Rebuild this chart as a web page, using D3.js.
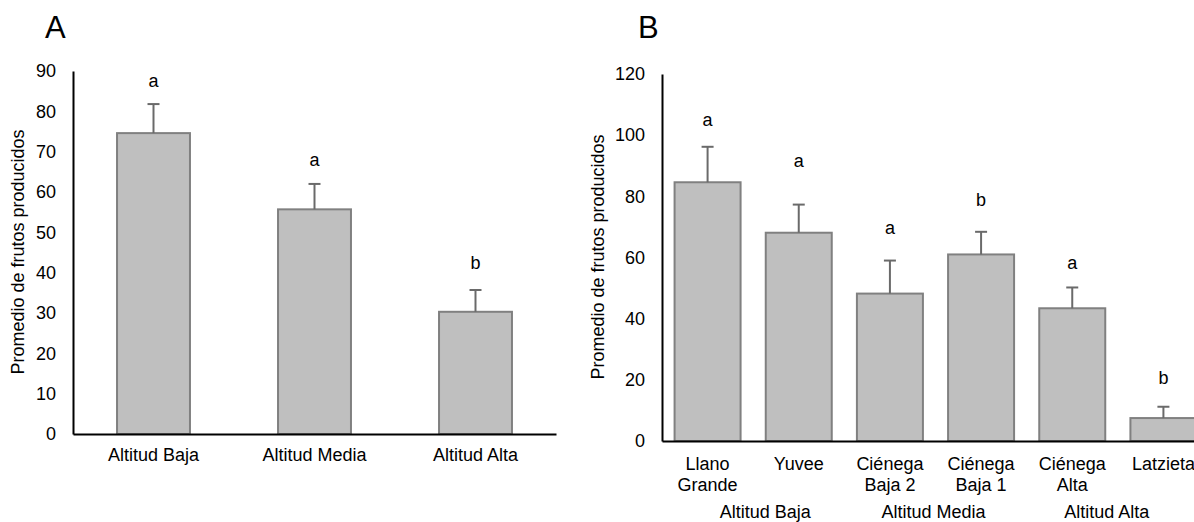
<!DOCTYPE html>
<html>
<head>
<meta charset="utf-8">
<script src="https://cdn.jsdelivr.net/npm/d3@7"></script>
<style>
  body { margin: 0; background: #fff; }
  text { font-family: "Liberation Sans", Arial, sans-serif; fill: #000; }
</style>
</head>
<body>
<svg id="chart" width="1194" height="522"></svg>
<script>
// Panel A data
var catsA = ["Altitud Baja", "Altitud Media", "Altitud Alta"];
var meanA = [74.6, 55.7, 30.3];
var errA = [81.8, 62.0, 35.7];
var letterA = ["a", "a", "b"];
var letterPosA = [87.3, 67.9, 42.2];
var ticksA = [0, 10, 20, 30, 40, 50, 60, 70, 80, 90];

// Panel B data
var catsB = [["Llano", "Grande"], ["Yuvee"], ["Ciénega", "Baja 2"], ["Ciénega", "Baja 1"], ["Ciénega", "Alta"], ["Latzieta"]];
var meanB = [84.6, 68.1, 48.2, 61.0, 43.4, 7.5];
var errB = [96.2, 77.3, 59.0, 68.4, 50.2, 11.2];
var letterB = ["a", "a", "a", "b", "a", "b"];
var letterPosB = [104.8, 91.3, 69.4, 78.6, 58.0, 20.5];
var ticksB = [0, 20, 40, 60, 80, 100, 120];
var groupsB = ["Altitud Baja", "Altitud Media", "Altitud Alta"];

var yTitle = "Promedio de frutos producidos";

var svg = d3.select("#chart");

function panel(opt) {
  var g = svg.append("g");
  var idx = d3.range(opt.means.length);
  var x = d3.scaleBand().domain(idx).range(opt.xRange)
      .paddingInner(opt.pad).paddingOuter(opt.pad / 2);
  var y = d3.scaleLinear().domain(opt.yDomain).range(opt.yRange);

  // bars
  g.selectAll("rect.bar").data(idx).enter().append("rect")
    .attr("x", function(i) { return x(i); })
    .attr("y", function(i) { return y(opt.means[i]); })
    .attr("width", x.bandwidth())
    .attr("height", function(i) { return y(0) - y(opt.means[i]); })
    .attr("fill", "#bfbfbf")
    .attr("stroke", "#808080")
    .attr("stroke-width", 2);

  // error bars + significance letters
  idx.forEach(function(i) {
    var cx = x(i) + x.bandwidth() / 2;
    g.append("line")
      .attr("x1", cx).attr("x2", cx)
      .attr("y1", y(opt.means[i])).attr("y2", y(opt.errs[i]))
      .attr("stroke", "#6a6a6a").attr("stroke-width", 2);
    g.append("line")
      .attr("x1", cx - 6).attr("x2", cx + 6)
      .attr("y1", y(opt.errs[i])).attr("y2", y(opt.errs[i]))
      .attr("stroke", "#6a6a6a").attr("stroke-width", 2);
    g.append("text")
      .attr("x", cx).attr("y", y(opt.letterPos[i]))
      .attr("dy", "0.3em")
      .attr("text-anchor", "middle")
      .style("font-size", "18px")
      .text(opt.letters[i]);
  });

  // y axis
  var ya = g.append("g")
    .attr("transform", "translate(" + opt.xRange[0] + ",0)")
    .call(d3.axisLeft(y).tickValues(opt.ticks).tickSize(0).tickPadding(17));
  ya.select(".domain").attr("stroke", "#000").attr("stroke-width", 2);
  ya.selectAll(".tick text").style("font-size", "18px")
    .style("font-family", "Liberation Sans, Arial, sans-serif").attr("fill", "#000");

  // x axis line
  var xa = g.append("g")
    .attr("transform", "translate(0," + y(0) + ")")
    .call(d3.axisBottom(x).tickSize(0).tickFormat(""));
  xa.select(".domain").attr("stroke", "#000").attr("stroke-width", 2);

  // category labels
  idx.forEach(function(i) {
    var cx = x(i) + x.bandwidth() / 2;
    var lines = Array.isArray(opt.cats[i]) ? opt.cats[i] : [opt.cats[i]];
    var t = g.append("text")
      .attr("x", cx).attr("y", y(0) + opt.labelGap)
      .attr("text-anchor", "middle")
      .style("font-size", "18px");
    lines.forEach(function(s, k) {
      t.append("tspan").attr("x", cx).attr("dy", k === 0 ? 0 : 21).text(s);
    });
  });

  // y title
  g.append("text")
    .attr("transform", "translate(" + opt.titleX + "," + opt.titleY + ") rotate(-90)")
    .attr("dy", "0.35em")
    .attr("text-anchor", "middle")
    .style("font-size", "18px")
    .text(yTitle);

  // panel letter
  g.append("text")
    .attr("x", opt.tagX).attr("y", 38)
    .style("font-size", "31px")
    .text(opt.tag);

  return { x: x, y: y, g: g };
}

panel({
  means: meanA, errs: errA, letters: letterA, letterPos: letterPosA, cats: catsA,
  ticks: ticksA, xRange: [73, 556], pad: 0.547, yDomain: [0, 90], yRange: [434, 71],
  labelGap: 27, titleX: 18, titleY: 252, tag: "A", tagX: 45
});

var pb = panel({
  means: meanB, errs: errB, letters: letterB, letterPos: letterPosB, cats: catsB,
  ticks: ticksB, xRange: [662, 1209], pad: 0.276, yDomain: [0, 120], yRange: [441, 74],
  labelGap: 29, titleX: 598, titleY: 257, tag: "B", tagX: 638
});

// group labels under panel B (text boxes sit a bit off the pair midpoints)
var groupShift = [12, -2, -11];
groupsB.forEach(function(name, k) {
  var xb = pb.x;
  var mid = (xb(2 * k) + xb(2 * k + 1) + xb.bandwidth()) / 2 + groupShift[k];
  pb.g.append("text")
    .attr("x", mid).attr("y", 518)
    .attr("text-anchor", "middle")
    .style("font-size", "18px")
    .text(name);
});
</script>
</body>
</html>
